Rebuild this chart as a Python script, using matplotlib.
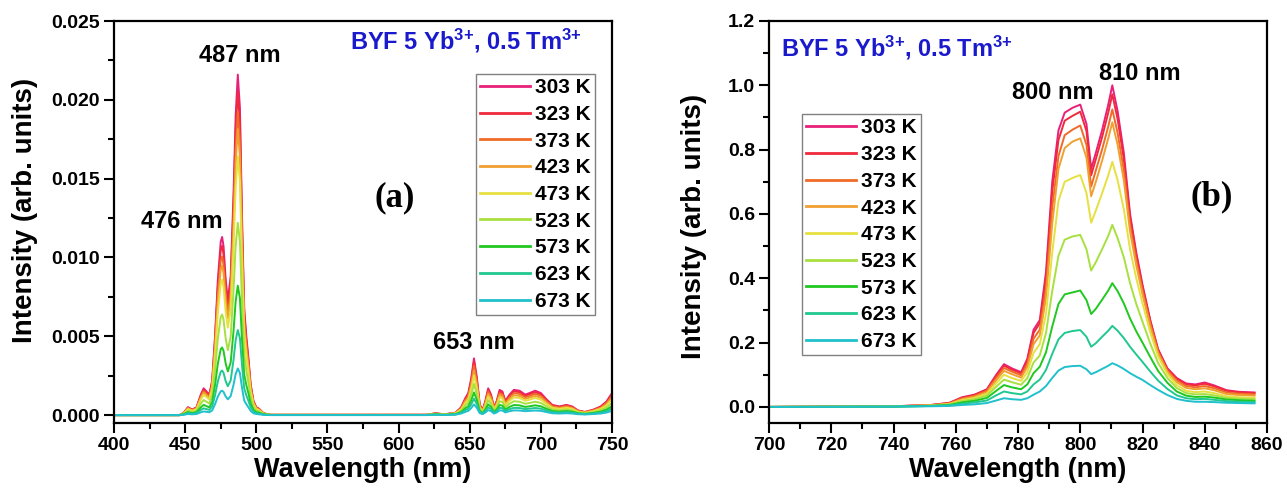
import numpy as np
import matplotlib
matplotlib.use("Agg")
import matplotlib.pyplot as plt
from matplotlib.ticker import MultipleLocator, FormatStrFormatter

plt.rcParams.update({
    "font.family": "Liberation Sans",
    "font.weight": "bold",
    "axes.labelweight": "bold",
    "mathtext.fontset": "custom",
    "mathtext.rm": "Liberation Sans:bold",
    "mathtext.it": "Liberation Sans:bold",
    "mathtext.bf": "Liberation Sans:bold",
})

temps = ["303 K", "323 K", "373 K", "423 K", "473 K", "523 K", "573 K", "623 K", "673 K"]
colors = ["#e8207a", "#f02a3c", "#f06a28", "#f0a030", "#e6e040",
          "#a8e040", "#20c820", "#20c890", "#20c0cc"]

# ---- visible emission (intensities in units of 1e-3) ----
wl_vis = [400, 446, 449, 452, 455, 458, 461, 463, 465, 467, 469, 471, 473, 475, 476, 477,
          478.5, 480, 482, 484, 485.5, 487, 488.5, 490, 491.5, 493, 494.5, 496, 498, 500,
          502, 505, 510,
          620, 626, 632, 640, 644, 647, 649, 651, 653, 655, 657, 659, 661, 663, 665, 667,
          669, 671, 673, 675, 678, 681, 685, 689, 692, 696, 700, 704, 708, 713, 718, 722,
          726, 731, 737, 742, 746, 750]

vis_303 = [0, 0, 0.15, 0.5, 0.35, 0.5, 1.3, 1.7, 1.5, 1.3, 2.2, 5.0, 8.6, 11.0, 11.3, 10.7,
           8.6, 7.3, 8.8, 14.0, 19.0, 21.6, 19.5, 12.5, 6.8, 5.0, 3.6, 2.0, 0.9, 0.5,
           0.4, 0.12, 0.02,
           0.02, 0.12, 0.05, 0.15, 0.5, 1.1, 1.4, 2.3, 3.6, 2.4, 0.7, 0.3, 0.9, 1.7, 1.3, 0.5,
           0.9, 1.6, 1.5, 0.9, 1.3, 1.6, 1.55, 1.3, 1.4, 1.55, 1.4, 1.0, 0.65, 0.55, 0.65, 0.55,
           0.3, 0.2, 0.35, 0.55, 0.85, 1.4]
vis_323 = [0, 0, 0.14, 0.48, 0.33, 0.48, 1.24, 1.62, 1.43, 1.24, 2.09, 4.75, 8.17, 10.45, 10.74, 10.17,
           8.17, 6.94, 8.36, 13.3, 18.05, 20.52, 18.53, 11.88, 6.46, 4.75, 3.42, 1.9, 0.86, 0.48,
           0.38, 0.11, 0.02,
           0.02, 0.11, 0.05, 0.14, 0.47, 1.03, 1.32, 2.16, 3.38, 2.26, 0.66, 0.28, 0.85, 1.6, 1.22, 0.47,
           0.85, 1.5, 1.41, 0.85, 1.22, 1.5, 1.46, 1.22, 1.32, 1.46, 1.32, 0.94, 0.61, 0.52, 0.61, 0.52,
           0.28, 0.19, 0.33, 0.52, 0.8, 1.32]
vis_373 = [0, 0, 0.13, 0.45, 0.31, 0.45, 1.16, 1.51, 1.34, 1.16, 1.96, 4.45, 7.65, 9.79, 10.06, 9.52,
           7.65, 6.5, 7.83, 12.46, 16.91, 19.22, 17.36, 11.13, 6.05, 4.45, 3.2, 1.78, 0.8, 0.45,
           0.36, 0.11, 0.02,
           0.02, 0.1, 0.04, 0.13, 0.44, 0.96, 1.22, 2.0, 3.13, 2.09, 0.61, 0.26, 0.78, 1.48, 1.13, 0.44,
           0.78, 1.39, 1.31, 0.78, 1.13, 1.39, 1.35, 1.13, 1.22, 1.35, 1.22, 0.87, 0.57, 0.48, 0.57, 0.48,
           0.26, 0.17, 0.3, 0.48, 0.74, 1.22]
vis_423 = [0, 0, 0.13, 0.42, 0.29, 0.42, 1.09, 1.43, 1.26, 1.09, 1.85, 4.2, 7.22, 9.24, 9.49, 8.99,
           7.22, 6.13, 7.39, 11.76, 15.96, 18.14, 16.38, 10.5, 5.71, 4.2, 3.02, 1.68, 0.76, 0.42,
           0.34, 0.1, 0.02,
           0.02, 0.09, 0.04, 0.12, 0.4, 0.87, 1.11, 1.82, 2.84, 1.9, 0.55, 0.24, 0.71, 1.34, 1.03, 0.4,
           0.71, 1.26, 1.19, 0.71, 1.03, 1.26, 1.22, 1.03, 1.11, 1.22, 1.11, 0.79, 0.51, 0.43, 0.51, 0.43,
           0.24, 0.16, 0.28, 0.43, 0.67, 1.11]
vis_473 = [0, 0, 0.11, 0.38, 0.27, 0.38, 0.99, 1.29, 1.14, 0.99, 1.67, 3.8, 6.54, 8.36, 8.59, 8.13,
           6.54, 5.55, 6.69, 10.64, 14.44, 16.42, 14.82, 9.5, 5.17, 3.8, 2.74, 1.52, 0.68, 0.38,
           0.3, 0.09, 0.02,
           0.01, 0.08, 0.04, 0.11, 0.35, 0.77, 0.98, 1.61, 2.52, 1.68, 0.49, 0.21, 0.63, 1.19, 0.91, 0.35,
           0.63, 1.12, 1.05, 0.63, 0.91, 1.12, 1.09, 0.91, 0.98, 1.09, 0.98, 0.7, 0.46, 0.39, 0.46, 0.39,
           0.21, 0.14, 0.25, 0.39, 0.6, 0.98]
vis_523 = [0, 0, 0.08, 0.28, 0.2, 0.28, 0.73, 0.96, 0.85, 0.73, 1.24, 2.83, 4.86, 6.22, 6.38, 6.05,
           4.86, 4.12, 4.97, 7.91, 10.74, 12.2, 11.02, 7.06, 3.84, 2.83, 2.03, 1.13, 0.51, 0.28,
           0.23, 0.07, 0.01,
           0.01, 0.07, 0.03, 0.08, 0.28, 0.61, 0.77, 1.27, 1.98, 1.32, 0.39, 0.17, 0.5, 0.94, 0.72, 0.28,
           0.5, 0.88, 0.83, 0.5, 0.72, 0.88, 0.85, 0.72, 0.77, 0.85, 0.77, 0.55, 0.36, 0.3, 0.36, 0.3,
           0.17, 0.11, 0.19, 0.3, 0.47, 0.77]
vis_573 = [0, 0, 0.06, 0.19, 0.13, 0.19, 0.49, 0.65, 0.57, 0.49, 0.84, 1.9, 3.27, 4.18, 4.29, 4.07,
           3.27, 2.77, 3.34, 5.32, 7.22, 8.21, 7.41, 4.75, 2.58, 1.9, 1.37, 0.76, 0.34, 0.19,
           0.15, 0.05, 0.01,
           0.01, 0.05, 0.02, 0.06, 0.2, 0.44, 0.56, 0.92, 1.44, 0.96, 0.28, 0.12, 0.36, 0.68, 0.52, 0.2,
           0.36, 0.64, 0.6, 0.36, 0.52, 0.64, 0.62, 0.52, 0.56, 0.62, 0.56, 0.4, 0.26, 0.22, 0.26, 0.22,
           0.12, 0.08, 0.14, 0.22, 0.34, 0.56]
vis_623 = [0, 0, 0.04, 0.13, 0.09, 0.13, 0.33, 0.43, 0.38, 0.33, 0.55, 1.25, 2.15, 2.75, 2.83, 2.68,
           2.15, 1.83, 2.2, 3.5, 4.75, 5.4, 4.88, 3.13, 1.7, 1.25, 0.9, 0.5, 0.23, 0.13,
           0.1, 0.03, 0.01,
           0.01, 0.03, 0.01, 0.04, 0.15, 0.32, 0.41, 0.67, 1.04, 0.7, 0.2, 0.09, 0.26, 0.49, 0.38, 0.15,
           0.26, 0.46, 0.44, 0.26, 0.38, 0.46, 0.45, 0.38, 0.41, 0.45, 0.41, 0.29, 0.19, 0.16, 0.19, 0.16,
           0.09, 0.06, 0.1, 0.16, 0.25, 0.41]
vis_673 = [0, 0, 0.02, 0.07, 0.05, 0.07, 0.18, 0.23, 0.21, 0.18, 0.3, 0.69, 1.18, 1.51, 1.55, 1.47,
           1.18, 1.0, 1.21, 1.92, 2.6, 2.96, 2.67, 1.71, 0.93, 0.69, 0.49, 0.27, 0.12, 0.07,
           0.05, 0.02, 0.0,
           0.0, 0.02, 0.01, 0.03, 0.1, 0.21, 0.27, 0.44, 0.68, 0.46, 0.13, 0.06, 0.17, 0.32, 0.25, 0.1,
           0.17, 0.3, 0.29, 0.17, 0.25, 0.3, 0.29, 0.25, 0.27, 0.29, 0.27, 0.19, 0.12, 0.1, 0.12, 0.1,
           0.06, 0.04, 0.07, 0.1, 0.16, 0.27]

# ---- near-infrared emission ----
wl_nir = [700, 740, 752, 758, 762, 766, 770, 773, 775.5, 778, 781, 783, 785, 787, 789, 791,
          793, 795, 797.5, 800, 802, 803.5, 805, 807, 809, 810.3, 812, 814, 816, 818, 820,
          822.5, 825, 828, 831, 834, 837, 840, 843, 847, 851, 856]

nir_303 = [0, 0.002, 0.006, 0.013, 0.030, 0.038, 0.055, 0.100, 0.133, 0.120, 0.108, 0.150, 0.240,
           0.270, 0.420, 0.700, 0.860, 0.915, 0.930, 0.940, 0.880, 0.740, 0.790, 0.860, 0.940,
           1.000, 0.920, 0.790, 0.600, 0.480, 0.380, 0.270, 0.180, 0.120, 0.090, 0.073, 0.070,
           0.076, 0.067, 0.052, 0.047, 0.045]
nir_323 = [0, 0.002, 0.006, 0.012, 0.028, 0.037, 0.053, 0.096, 0.128, 0.116, 0.104, 0.144, 0.230,
           0.260, 0.400, 0.670, 0.830, 0.890, 0.905, 0.918, 0.858, 0.720, 0.770, 0.838, 0.915,
           0.972, 0.895, 0.770, 0.590, 0.472, 0.374, 0.266, 0.177, 0.117, 0.087, 0.070, 0.067,
           0.072, 0.064, 0.050, 0.045, 0.043]
nir_373 = [0, 0.002, 0.005, 0.011, 0.026, 0.034, 0.050, 0.090, 0.121, 0.110, 0.098, 0.134, 0.212,
           0.240, 0.370, 0.620, 0.780, 0.845, 0.862, 0.875, 0.815, 0.685, 0.735, 0.800, 0.872,
           0.925, 0.852, 0.735, 0.565, 0.455, 0.362, 0.258, 0.172, 0.113, 0.082, 0.065, 0.061,
           0.065, 0.058, 0.045, 0.041, 0.039]
nir_423 = [0, 0.002, 0.005, 0.010, 0.024, 0.031, 0.046, 0.083, 0.112, 0.102, 0.091, 0.124, 0.195,
           0.222, 0.340, 0.570, 0.740, 0.805, 0.825, 0.835, 0.775, 0.655, 0.700, 0.765, 0.835,
           0.885, 0.815, 0.705, 0.545, 0.440, 0.350, 0.250, 0.167, 0.109, 0.077, 0.059, 0.055,
           0.058, 0.052, 0.040, 0.037, 0.035]
nir_473 = [0, 0.002, 0.004, 0.009, 0.021, 0.028, 0.041, 0.074, 0.100, 0.090, 0.081, 0.108, 0.168,
           0.195, 0.290, 0.480, 0.640, 0.700, 0.712, 0.721, 0.665, 0.573, 0.610, 0.664, 0.720,
           0.762, 0.705, 0.615, 0.490, 0.400, 0.322, 0.232, 0.157, 0.102, 0.068, 0.050, 0.046,
           0.048, 0.043, 0.033, 0.030, 0.028]
nir_523 = [0, 0.001, 0.004, 0.008, 0.018, 0.024, 0.035, 0.063, 0.085, 0.077, 0.069, 0.090, 0.138,
           0.160, 0.230, 0.360, 0.470, 0.520, 0.530, 0.535, 0.490, 0.424, 0.450, 0.490, 0.532,
           0.566, 0.525, 0.465, 0.385, 0.320, 0.265, 0.197, 0.137, 0.090, 0.059, 0.043, 0.039,
           0.040, 0.036, 0.028, 0.026, 0.024]
nir_573 = [0, 0.001, 0.003, 0.006, 0.014, 0.019, 0.028, 0.050, 0.068, 0.061, 0.055, 0.070, 0.105,
           0.125, 0.170, 0.250, 0.320, 0.350, 0.356, 0.362, 0.332, 0.289, 0.305, 0.333, 0.362,
           0.385, 0.360, 0.322, 0.275, 0.235, 0.200, 0.155, 0.112, 0.075, 0.048, 0.035, 0.031,
           0.032, 0.029, 0.023, 0.021, 0.019]
nir_623 = [0, 0.001, 0.003, 0.005, 0.010, 0.014, 0.020, 0.036, 0.048, 0.043, 0.039, 0.048, 0.070,
           0.085, 0.115, 0.165, 0.210, 0.230, 0.236, 0.239, 0.218, 0.187, 0.198, 0.218, 0.237,
           0.252, 0.237, 0.214, 0.187, 0.163, 0.140, 0.110, 0.082, 0.056, 0.036, 0.027, 0.024,
           0.025, 0.022, 0.018, 0.016, 0.015]
nir_673 = [0, 0.001, 0.002, 0.003, 0.006, 0.008, 0.012, 0.020, 0.027, 0.024, 0.022, 0.027, 0.038,
           0.048, 0.065, 0.090, 0.113, 0.124, 0.127, 0.128, 0.117, 0.102, 0.108, 0.118, 0.128,
           0.136, 0.129, 0.118, 0.105, 0.094, 0.084, 0.068, 0.053, 0.037, 0.025, 0.019, 0.016,
           0.016, 0.015, 0.013, 0.012, 0.011]

vis_series = [vis_303, vis_323, vis_373, vis_423, vis_473, vis_523, vis_573, vis_623, vis_673]
nir_series = [nir_303, nir_323, nir_373, nir_423, nir_473, nir_523, nir_573, nir_623, nir_673]

sample = r"BYF 5 Yb$^{3{+}}$, 0.5 Tm$^{3{+}}$"
W, H = 1287, 488
fig = plt.figure(figsize=(W / 100, H / 100), dpi=100)
ax1 = fig.add_axes([114 / W, 1 - 423 / H, 498 / W, 402 / H])
ax2 = fig.add_axes([769 / W, 1 - 423 / H, 498 / W, 402 / H])


def style(ax):
    for sp in ax.spines.values():
        sp.set_linewidth(1.6)
    ax.tick_params(which="both", direction="out", top=False, right=False,
                   width=1.5, labelsize=14, pad=3)
    ax.tick_params(which="major", length=7)
    ax.tick_params(which="minor", length=4)
    ax.set_xlabel("Wavelength (nm)", fontsize=19.5, fontweight="bold", labelpad=2)
    ax.set_ylabel("Intensity (arb. units)", fontsize=20, fontweight="bold")


def legend(ax, anchor):
    leg = ax.legend(loc="upper left", bbox_to_anchor=anchor, borderaxespad=0,
                    fontsize=15, handlelength=2.4, handletextpad=0.25,
                    labelspacing=0.37, borderpad=0.2, fancybox=False,
                    framealpha=1, edgecolor="#808080")
    leg.get_frame().set_linewidth(1.0)
    for ln in leg.get_lines():
        ln.set_linewidth(2.0)


# panel (a)
for lab, col, vals in zip(temps, colors, vis_series):
    ax1.plot(wl_vis, np.asarray(vals) * 1e-3, color=col, lw=1.4, label=lab)
ax1.set_xlim(400, 750)
ax1.set_ylim(-0.0005, 0.025)
ax1.xaxis.set_major_locator(MultipleLocator(50))
ax1.xaxis.set_minor_locator(MultipleLocator(25))
ax1.yaxis.set_major_locator(MultipleLocator(0.005))
ax1.yaxis.set_minor_locator(MultipleLocator(0.0025))
ax1.yaxis.set_major_formatter(FormatStrFormatter("%.3f"))
style(ax1)
ax1.yaxis.set_label_coords(-0.153, 0.53)
legend(ax1, (0.727, 0.868))
ax1.text(566, 0.0232, sample, color="#1a1acc", fontsize=17, fontweight="bold",
         ha="left", va="baseline")
ax1.text(488.5, 0.0224, "487 nm", fontsize=17, fontweight="bold", ha="center", va="baseline")
ax1.text(447.8, 0.0119, "476 nm", fontsize=17, fontweight="bold", ha="center", va="baseline")
ax1.text(653, 0.0042, "653 nm", fontsize=17, fontweight="bold", ha="center", va="baseline")
ax1.text(597.5, 0.0138, "(a)", fontsize=25, fontweight="bold", family="Liberation Serif",
         ha="center", va="center")

# panel (b)
for lab, col, vals in zip(temps, colors, nir_series):
    ax2.plot(wl_nir, vals, color=col, lw=1.4, label=lab)
ax2.set_xlim(700, 860)
ax2.set_ylim(-0.05, 1.2)
ax2.xaxis.set_major_locator(MultipleLocator(20))
ax2.xaxis.set_minor_locator(MultipleLocator(10))
ax2.yaxis.set_major_locator(MultipleLocator(0.2))
ax2.yaxis.set_minor_locator(MultipleLocator(0.1))
ax2.yaxis.set_major_formatter(FormatStrFormatter("%.1f"))
style(ax2)
ax2.yaxis.set_label_coords(-0.124, 0.49)
legend(ax2, (0.066, 0.768))
ax2.text(703.8, 1.091, sample, color="#1a1acc", fontsize=17, fontweight="bold",
         ha="left", va="baseline")
ax2.text(791.2, 0.957, "800 nm", fontsize=17, fontweight="bold", ha="center", va="baseline")
ax2.text(819.2, 1.016, "810 nm", fontsize=17, fontweight="bold", ha="center", va="baseline")
ax2.text(842.3, 0.653, "(b)", fontsize=25, fontweight="bold", family="Liberation Serif",
         ha="center", va="center")

fig.savefig("out.png", dpi=100)
